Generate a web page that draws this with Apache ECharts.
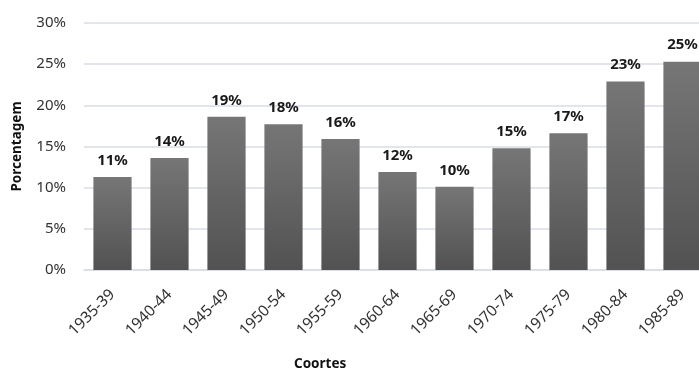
<!DOCTYPE html>
<html>
<head>
<meta charset="utf-8">
<script src="https://cdn.jsdelivr.net/npm/echarts@6/dist/echarts.min.js"></script>
<style>
  html, body { margin: 0; padding: 0; background: #fff; }
  #chart { width: 699px; height: 374px; }
</style>
</head>
<body>
<div id="chart"></div>
<script>
  const coortes = ['1935-39', '1940-44', '1945-49', '1950-54', '1955-59', '1960-64', '1965-69', '1970-74', '1975-79', '1980-84', '1985-89']
  const porcentagens = [11.3, 13.6, 18.6, 17.7, 15.9, 11.9, 10.1, 14.8, 16.6, 22.9, 25.3]
  const yTicks = [0, 5, 10, 15, 20, 25, 30]

  const FONT = '"Noto Sans", "Open Sans", sans-serif'
  const gridColor = '#d9dde5'

  const chart = echarts.init(document.getElementById('chart'))

  chart.setOption({
    animation: false,
    grid: {
      left: 84,
      top: 23,
      width: 627,
      bottom: 104,
      outerBoundsMode: 'none'
    },
    xAxis: {
      type: 'category',
      data: coortes,
      axisLine: { show: true, lineStyle: { color: gridColor, width: 1.5 } },
      axisTick: { show: false },
      axisLabel: {
        interval: 0,
        rotate: 45,
        margin: 22,
        color: '#333',
        fontFamily: FONT,
        fontSize: 15.5
      }
    },
    yAxis: {
      type: 'value',
      min: yTicks[0],
      max: yTicks[yTicks.length - 1],
      interval: 5,
      name: 'Porcentagem',
      nameLocation: 'middle',
      nameRotate: 90,
      nameGap: 60,
      nameTextStyle: {
        fontFamily: FONT,
        fontSize: 13.5,
        fontWeight: 'bold',
        color: '#111'
      },
      axisLine: { show: false },
      axisTick: { show: false },
      splitLine: { lineStyle: { color: gridColor, width: 1.5 } },
      axisLabel: {
        margin: 18,
        color: '#333',
        fontFamily: FONT,
        fontSize: 15,
        formatter: '{value}%'
      }
    },
    graphic: [
      {
        type: 'text',
        left: 294,
        top: 357,
        style: {
          text: 'Coortes',
          font: 'bold 13.5px ' + FONT,
          fill: '#111'
        }
      }
    ],
    series: [
      {
        type: 'bar',
        data: porcentagens,
        barCategoryGap: '33%',
        itemStyle: {
          color: new echarts.graphic.LinearGradient(0, 0, 0, 1, [
            { offset: 0, color: '#767676' },
            { offset: 1, color: '#525252' }
          ])
        },
        label: {
          show: true,
          position: 'top',
          distance: 9,
          color: '#1a1a1a',
          fontFamily: FONT,
          fontSize: 15,
          fontWeight: 'bold',
          formatter: (p) => Math.round(p.value) + '%'
        }
      }
    ]
  })
</script>
</body>
</html>
